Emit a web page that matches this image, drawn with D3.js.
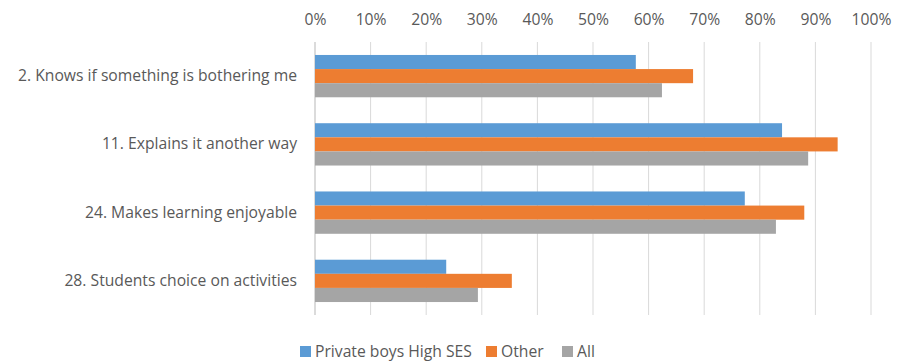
<!DOCTYPE html>
<html>
<head>
    <meta charset="utf-8">
    <script src="https://d3js.org/d3.v7.min.js"></script>
    <style>
        body { margin: 0; background: #fff; }
        text { font-family: "Open Sans", Lato, sans-serif; fill: #595959; }
    </style>
</head>
<body>
    <script>
        let categories = [
            "2. Knows if something is bothering me",
            "11. Explains it another way",
            "24. Makes learning enjoyable",
            "28. Students choice on activities"
        ];
        let seriesNames = ["Private boys High SES", "Other", "All"];
        let privateBoys = [0.577, 0.840, 0.773, 0.236];
        let other = [0.680, 0.940, 0.880, 0.354];
        let all = [0.624, 0.887, 0.829, 0.293];
        let ticks = [0, 0.1, 0.2, 0.3, 0.4, 0.5, 0.6, 0.7, 0.8, 0.9, 1];
        let colors = ["#5B9BD5", "#ED7D31", "#A5A5A5"];

        let w = 897, h = 362;
        let fontSize = "15.7px";
        let svg = d3.select('body').append('svg')
            .attr('width', w)
            .attr('height', h);

        let x_scale = d3.scaleLinear()
            .domain([0, 1])
            .range([315, 871]);

        let y_scale = d3.scaleBand()
            .domain(categories)
            .range([42, 315])
            .paddingInner(0.38)
            .paddingOuter(0.19);

        let inner = d3.scaleBand()
            .domain(seriesNames)
            .range([0, y_scale.bandwidth()]);

        // gridlines
        svg.selectAll("line.grid")
            .data(ticks)
            .join("line")
                .attr("class", "grid")
                .attr("x1", d => x_scale(d))
                .attr("x2", d => x_scale(d))
                .attr("y1", 42)
                .attr("y2", 315)
                .attr("stroke", d => d === 0 ? "#CFCFCF" : "#D9D9D9")
                .attr("stroke-width", d => d === 0 ? 1.5 : 1);

        // top axis labels
        let xAxis = d3.axisTop(x_scale)
            .tickValues(ticks)
            .tickFormat(d3.format(".0%"))
            .tickSize(0)
            .tickPadding(0);
        let gx = svg.append("g")
            .attr("transform", "translate(0,25)")
            .call(xAxis);
        gx.select(".domain").remove();
        gx.selectAll("text")
            .style("font-size", fontSize)
            .attr("fill", "#595959");

        // category labels
        let yAxis = d3.axisLeft(y_scale).tickSize(0).tickPadding(0);
        let gy = svg.append("g")
            .attr("transform", "translate(297,0)")
            .call(yAxis);
        gy.select(".domain").remove();
        gy.selectAll("text")
            .style("font-size", fontSize)
            .attr("fill", "#595959");

        let series = [privateBoys, other, all];
        series.forEach((vals, si) => {
            svg.append("g").selectAll("rect")
                .data(vals)
                .join("rect")
                    .attr("x", x_scale(0))
                    .attr("y", (d, i) => y_scale(categories[i]) + inner(seriesNames[si]))
                    .attr("width", d => x_scale(d) - x_scale(0))
                    .attr("height", inner.bandwidth())
                    .attr("fill", colors[si]);
        });

        // legend
        let legendX = [300, 486, 562];
        let lg = svg.append("g").selectAll("g")
            .data(seriesNames)
            .join("g")
                .attr("transform", (d, i) => `translate(${legendX[i]},346)`);
        lg.append("rect")
            .attr("width", 11)
            .attr("height", 11)
            .attr("fill", (d, i) => colors[i]);
        lg.append("text")
            .attr("x", 15)
            .attr("y", 11)
            .style("font-size", fontSize)
            .text(d => d);
    </script>
</body>
</html>
